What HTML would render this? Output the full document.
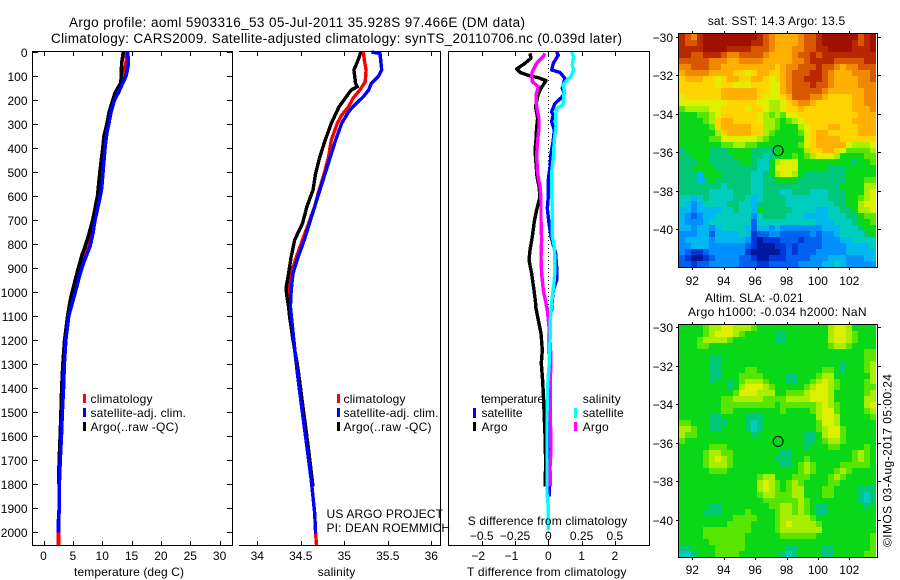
<!DOCTYPE html>
<html lang="en">
<head>
<meta charset="utf-8">
<title>Argo profile 5903316_53</title>
<style>
html,body{margin:0;padding:0;background:#fff;width:900px;height:580px;overflow:hidden}
svg{display:block}
text{font-family:"Liberation Sans",sans-serif;font-size:12px;fill:#000}
.mid{text-anchor:middle}
.end{text-anchor:end}
</style>
</head>
<body>
<svg id="figure" xmlns="http://www.w3.org/2000/svg" width="900" height="580" viewBox="0 0 900 580">
<rect x="0" y="0" width="900" height="580" fill="#fff"/>
<text x="69" y="27" textLength="456" style="font-size:13.5px">Argo profile: aoml 5903316_53 05-Jul-2011 35.928S 97.466E (DM data)</text>
<text x="51" y="43" textLength="571" style="font-size:13.5px">Climatology: CARS2009. Satellite-adjusted climatology: synTS_20110706.nc (0.039d later)</text>

<g id="panel-temp"></g>
<g id="panel-sal"></g>
<g id="panel-diff"></g>
<g id="map-sst"></g>
<g id="map-sla"></g>

<text x="74" y="576" textLength="110">temperature (deg C)</text>
<text x="317.7" y="576" textLength="37.5">salinity</text>
<text x="467" y="576" textLength="159.5">T difference from climatology</text>
<text x="467.7" y="525" textLength="159.5">S difference from climatology</text>

<g>
<rect x="83" y="394" width="3" height="9" fill="#f00"/>
<rect x="83" y="408" width="3" height="9" fill="#00f"/>
<rect x="83" y="422" width="3" height="9" fill="#000"/>
<text x="90.5" y="403" textLength="62">climatology</text>
<text x="90.5" y="417" textLength="95.5">satellite-adj. clim.</text>
<text x="90.5" y="431" textLength="88">Argo(..raw -QC)</text>
</g>
<g>
<rect x="337" y="394" width="3" height="9" fill="#f00"/>
<rect x="337" y="408" width="3" height="9" fill="#00f"/>
<rect x="337" y="422" width="3" height="9" fill="#000"/>
<text x="343.5" y="403" textLength="62">climatology</text>
<text x="343.5" y="417" textLength="95">satellite-adj. clim.</text>
<text x="343.5" y="431" textLength="88">Argo(..raw -QC)</text>
</g>
<text x="326.5" y="518" textLength="116.5">US ARGO PROJECT</text>
<text x="326.5" y="532" textLength="123.5">PI: DEAN ROEMMICH</text>
<g>
<text x="481" y="403" textLength="63">temperature</text>
<text x="582.7" y="403" textLength="38">salinity</text>
<rect x="473" y="408" width="3" height="10" fill="#00f"/>
<rect x="473" y="422" width="3" height="9" fill="#000"/>
<rect x="574" y="408" width="3" height="10" fill="#0ff"/>
<rect x="574" y="422" width="3" height="9" fill="#f0f"/>
<text x="481.5" y="417" textLength="41">satellite</text>
<text x="481.5" y="431" textLength="26">Argo</text>
<text x="582.7" y="417" textLength="41">satellite</text>
<text x="582.7" y="431" textLength="26">Argo</text>
</g>

<text x="707.7" y="25" textLength="137.5">sat. SST: 14.3 Argo: 13.5</text>
<text x="705" y="302" textLength="98.5">Altim. SLA: -0.021</text>
<text x="688" y="316" textLength="178.5">Argo h1000: -0.034 h2000: NaN</text>
<text transform="translate(891.5,547) rotate(-90)" x="0" y="0" textLength="173">©IMOS 03-Aug-2017 05:00:24</text>
</svg>

<script>
// ---- depth axis ----
const depthTicks = [0,100,200,300,400,500,600,700,800,900,1000,1100,1200,1300,1400,1500,1600,1700,1800,1900,2000];

// ---- temperature panel ----
const tempTicks = [0,5,10,15,20,25,30];
const climTempDepth = [0,50,100,140,170,200,250,300,340,400,480,570,620,700,760,810,880,940,1005,1100,1200,1300,1400,1500,1600,1700,1800,1900,2000,2054];
const climTemp = [14.1,14.05,13.6,13.0,12.5,11.9,11.35,11.0,10.65,10.4,10.1,9.8,9.4,8.65,8.25,7.75,6.65,5.9,5.2,4.25,3.75,3.5,3.35,3.15,3.0,2.8,2.65,2.65,2.55,2.55];
const satTempDepth = [0,50,100,140,170,200,250,300,340,400,480,570,620,700,760,810,880,940,1005,1100,1200,1300,1400,1500,1600,1700,1800,1900,1950,2002];
const satTemp = [14.35,14.46,14.06,13.3,12.75,12.07,11.5,11.1,10.77,10.48,10.2,9.9,9.5,8.78,8.38,7.93,6.8,6.05,5.37,4.3,3.8,3.55,3.4,3.2,3.05,2.85,2.7,2.7,2.55,2.55];
const argoTempDepth = [0,50,100,130,170,200,250,300,350,400,500,600,700,780,850,950,1030,1100,1200,1300,1400,1500,1600,1700,1800];
const argoTemp = [13.6,13.3,13.27,13.15,12.2,11.8,11.2,10.8,10.3,10.1,9.6,9.2,8.4,7.5,6.5,5.4,4.6,4.1,3.6,3.3,3.1,2.98,2.85,2.68,2.58];

// ---- salinity panel ----
const salTicks = [34,34.5,35,35.5,36];
const salTickLabels = ['34','34.5','35','35.5','36'];
const climSalDepth = [0,33,75,124,158,193,228,263,297,367,436,506,575,644,714,783,853,922,992,1100,1200,1367,1506,1644,1783,1922,2006,2054];
const climSal = [35.22,35.23,35.25,35.24,35.18,35.10,35.05,34.97,34.92,34.85,34.82,34.77,34.71,34.66,34.59,34.52,34.45,34.39,34.36,34.375,34.415,34.47,34.52,34.57,34.62,34.66,34.67,34.68];
const satSalDepth = [0,6,75,103,131,158,186,228,249,297,367,436,506,575,644,714,783,853,922,992,1061,1200,1367,1506,1644,1783,1922,2006];
const satSal = [35.31,35.41,35.43,35.39,35.31,35.28,35.22,35.10,35.05,34.97,34.90,34.84,34.78,34.72,34.66,34.60,34.54,34.47,34.41,34.39,34.38,34.42,34.47,34.52,34.57,34.62,34.66,34.67];
const argoSalDepth = [0,33,75,131,145,158,193,228,297,367,436,506,575,644,714,783,853,922,985,1019,1061,1100,1200,1300,1367,1506,1644,1811];
const argoSal = [35.19,35.16,35.11,35.13,35.15,35.08,35.01,34.94,34.85,34.78,34.72,34.67,34.64,34.57,34.52,34.43,34.39,34.36,34.33,34.34,34.36,34.37,34.41,34.46,34.485,34.535,34.585,34.64];

// ---- difference panel ----
const tDiffTicks = [-2,-1,0,1,2];
const tDiffLabels = ['−2','−1','0','1','2'];
const sDiffTicks = [-0.5,-0.25,0,0.25,0.5];
const sDiffLabels = ['−0.5','−0.25','0','0.25','0.5'];
const tArgoDepth = [6,26,47,71,85,100,107,119,158,186,228,276,318,367,408,464,519,561,603,658,707,769,825,867,922,992,1047,1061,1117,1172,1242,1297,1367,1422,1492,1561,1617,1728,1811];
const tArgoDiff = [-0.55,-0.52,-0.70,-0.95,-0.85,-0.55,-0.30,-0.07,-0.25,-0.32,-0.38,-0.32,-0.35,-0.37,-0.40,-0.37,-0.34,-0.28,-0.25,-0.35,-0.42,-0.48,-0.55,-0.58,-0.50,-0.43,-0.38,-0.38,-0.30,-0.22,-0.18,-0.21,-0.17,-0.15,-0.13,-0.11,-0.09,-0.08,-0.10];
const tSatDepth = [0,13,47,75,85,110,151,172,189,214,249,263,290,325,367,422,478,533,603,651,714,769,839,894,950,992,1033,1075,1089,1172,1400,1800,1852];
const tSatDiff = [0.25,0.30,0.15,0.10,0.35,0.50,0.42,0.48,0.40,0.20,0.10,0.15,0.10,0.18,0.15,0.08,0.05,0,0,-0.03,0.02,0.08,0.22,0.25,0.25,0.15,0.12,0.10,0.05,0.03,0.02,0.02,0.03];
const sSatDepth = [0,19,54,75,103,117,138,158,221,235,269,311,367,436,506,575,644,714,769,811,894,950,1006,1075,1117,1172,1242,1311,1394,1506,1658,1839,1894,1992];
const sSatDiff = [0.175,0.19,0.18,0.19,0.17,0.14,0.11,0.12,0.11,0.06,0.055,0.058,0.045,0.038,0.025,0.025,0.03,0.03,0.03,0.045,0.05,0.045,0.033,0.02,0.015,0.015,0.01,0.005,-0.005,-0.01,-0.01,-0.01,0,0];
const sArgoDepth = [6,19,47,89,124,144,179,228,276,318,367,436,506,561,617,700,783,853,922,992,1047,1075,1144,1269,1381,1506,1658,1728,1811];
const sArgoDiff = [-0.025,-0.0375,-0.0875,-0.125,-0.12,-0.075,-0.0925,-0.0875,-0.07,-0.07,-0.08,-0.0875,-0.08,-0.0625,-0.055,-0.055,-0.05,-0.055,-0.05,-0.0375,-0.0175,-0.0075,0.005,0.02,0.015,0.015,0.02,0.0125,0.015];

// ---- maps ----
const lonTicks = [92,94,96,98,100,102];
const latTicks = [-30,-32,-34,-36,-38,-40];
const profileLon = 97.466;
const profileLat = -35.928;
const levelColors = ['#0018a0','#0038d8','#0060f0','#0090ff','#00b8f0','#00ccc0','#00c878','#08d818','#58e600','#a8ee00','#dcf000','#ffd400','#ffb000','#f08800','#d85800','#b82800','#a01000'];
const sstLevels = [
[15,14,13,15,16,16,16,16,16,16,16,16,16,15,14,13,12,12,12,12,13,14,14,15,16,16,16,16,16,16,14,15,16],
[15,14,14,15,16,16,16,16,16,16,16,16,15,15,14,13,12,12,12,12,13,14,14,15,16,16,16,16,16,15,14,15,16],
[15,15,15,15,16,16,16,16,15,15,15,15,14,14,14,13,12,12,12,13,13,14,14,15,15,16,16,16,16,15,15,15,16],
[15,15,14,14,15,15,15,14,13,13,14,14,14,14,13,12,12,12,12,13,14,14,15,14,15,15,15,15,15,15,15,15,15],
[14,14,14,14,14,13,13,13,12,12,13,13,13,13,12,12,12,12,12,13,13,14,15,15,15,15,14,14,14,14,14,15,15],
[13,13,14,14,14,13,13,12,12,12,12,12,12,12,12,12,11,12,13,13,14,14,14,15,14,14,13,12,13,13,14,14,14],
[12,13,13,13,13,12,12,12,12,11,11,10,11,12,12,11,11,12,13,14,14,14,15,15,14,13,12,12,12,13,13,13,14],
[11,12,12,12,11,11,10,11,12,12,11,11,12,12,11,10,11,12,13,14,14,15,15,15,14,13,12,12,12,12,13,13,14],
[11,11,11,11,11,11,10,11,11,10,10,10,11,11,11,10,10,12,13,14,14,14,15,14,14,13,12,12,12,12,13,13,13],
[11,11,11,11,11,11,11,12,12,12,12,12,12,11,11,10,10,12,13,14,14,14,14,14,13,12,12,12,12,12,12,13,13],
[10,11,11,11,11,11,11,12,12,12,12,12,12,11,10,10,10,11,12,14,14,14,13,13,12,11,11,11,11,12,12,13,13],
[10,10,10,10,10,10,10,10,11,11,11,11,11,10,10,9,9,10,11,12,13,13,12,11,11,11,11,11,11,12,12,13,13],
[8,9,9,9,9,10,10,11,11,11,11,10,11,11,10,9,9,10,11,11,12,11,11,11,11,11,11,11,11,12,12,12,13],
[7,7,7,8,8,9,10,11,11,11,11,11,11,10,9,8,9,8,10,10,11,11,11,11,11,11,11,11,11,11,12,12,12],
[7,7,7,7,8,9,11,12,12,11,11,11,11,10,9,9,8,7,8,9,10,11,11,11,11,11,11,11,11,12,12,12,12],
[7,7,7,7,7,8,11,12,12,12,12,12,11,11,9,9,8,7,7,7,9,10,11,11,11,12,12,11,11,11,12,12,12],
[7,7,7,7,7,7,9,11,12,12,12,12,11,11,9,8,7,7,7,7,8,10,11,12,12,11,11,11,11,11,12,12,12],
[7,7,7,7,7,8,8,10,10,10,10,10,10,9,8,7,7,7,7,7,7,10,11,12,12,12,12,11,11,11,11,11,11],
[7,7,7,7,7,7,7,8,8,9,9,8,8,7,7,7,7,7,7,7,8,10,11,12,12,12,12,12,10,9,9,9,10],
[6,7,7,7,7,6,6,6,7,7,7,7,6,6,6,6,7,7,7,7,7,9,11,11,12,12,11,10,8,8,8,8,9],
[6,6,7,7,7,6,6,6,6,7,7,7,6,6,5,6,7,7,7,8,7,8,9,10,10,10,9,7,7,7,7,8,8],
[6,6,6,7,7,6,6,6,6,6,7,7,6,5,5,7,9,10,10,10,7,7,7,7,7,7,7,7,7,6,7,7,8],
[6,6,7,7,7,7,6,6,6,6,6,6,6,5,5,7,10,10,10,10,7,7,7,7,7,6,6,6,7,7,7,7,7],
[6,6,6,4,7,7,7,6,6,6,6,6,5,5,6,7,9,10,10,9,7,6,6,6,6,6,6,6,7,7,7,7,7],
[6,6,6,4,6,7,6,6,6,6,6,6,5,5,6,6,7,7,7,7,6,6,6,6,6,6,6,6,7,7,7,8,8],
[6,6,6,6,6,6,6,5,6,6,6,6,5,5,6,6,6,6,6,6,6,6,6,6,6,6,6,7,7,7,7,9,9],
[6,6,6,6,6,5,5,5,5,6,6,6,5,5,6,6,6,5,5,6,6,6,5,5,5,6,6,6,7,7,7,9,10],
[5,5,4,5,6,5,5,5,5,6,6,5,4,5,6,6,6,6,5,5,5,5,5,5,5,6,6,6,7,7,8,9,10],
[5,4,3,4,5,5,5,5,6,6,5,5,4,6,6,6,6,6,5,5,5,5,5,5,5,5,6,6,7,7,9,10,10],
[4,4,3,4,4,4,4,5,5,6,5,5,4,7,6,6,6,6,6,5,5,5,5,4,4,5,5,6,6,7,9,9,10],
[4,3,2,3,4,4,5,5,5,5,5,5,3,5,6,6,6,6,5,5,5,4,4,4,4,5,5,5,6,6,7,8,8],
[4,3,3,3,4,5,5,5,5,5,5,5,2,5,5,5,5,5,5,5,5,5,5,4,4,4,5,5,5,6,7,7,8],
[4,4,3,4,4,3,4,5,5,5,5,4,2,4,4,3,4,3,3,3,3,3,3,3,4,4,4,5,5,5,6,7,7],
[3,3,3,4,4,2,4,4,4,4,5,4,1,2,2,3,3,2,2,2,2,2,3,2,3,3,4,5,5,5,5,6,7],
[3,4,4,4,4,3,4,4,4,4,4,3,1,0,1,1,1,2,2,2,1,2,2,2,3,3,3,4,4,5,5,5,5],
[3,3,4,4,4,3,3,3,3,3,3,2,1,0,0,0,1,1,2,1,2,2,2,2,3,3,3,3,4,4,4,4,5],
[3,2,1,1,2,3,3,3,3,3,3,1,0,0,0,0,0,1,2,1,2,2,2,3,3,3,3,3,4,4,4,4,4],
[2,1,0,0,1,2,3,3,3,3,2,2,1,0,0,1,1,1,2,2,2,2,3,3,3,4,4,4,3,3,3,4,4],
[2,2,1,2,2,3,3,3,3,3,2,2,2,1,1,2,2,2,2,2,3,3,3,3,4,4,5,4,3,3,3,3,3]
];
const slaLevels = [
[7,7,7,7,8,9,9,10,10,9,9,9,8,7,7,7,7,7,7,7,7,7,7,7,7,9,10,10,9,7,7,7,7],
[7,7,7,7,8,9,10,10,10,9,8,7,7,7,7,7,6,6,7,7,7,7,7,7,7,9,10,10,9,8,7,7,7],
[7,7,7,8,9,9,9,9,8,7,7,7,7,7,7,7,6,6,7,7,7,7,7,7,7,9,10,10,9,8,7,7,7],
[7,7,7,8,8,7,7,7,7,7,7,7,7,7,7,7,7,7,7,7,7,7,7,7,7,8,9,9,8,7,7,7,7],
[7,7,7,7,7,7,7,7,7,7,7,7,7,7,7,7,7,7,7,7,7,7,7,7,7,7,7,7,7,7,7,8,8],
[7,7,7,7,7,6,6,7,7,7,7,7,7,7,7,7,7,7,7,7,7,7,7,7,7,7,7,7,7,7,7,8,8],
[7,7,7,7,7,6,6,7,7,7,7,7,7,7,7,7,7,7,7,7,7,7,7,7,7,7,7,6,7,7,7,8,9],
[7,7,7,7,7,6,6,7,7,7,7,8,8,7,7,7,7,7,7,7,7,7,7,7,8,8,7,6,7,7,7,8,9],
[7,7,7,7,7,6,6,7,7,7,8,8,8,8,7,7,7,7,6,6,7,7,7,8,9,9,7,7,7,7,7,7,9],
[7,7,7,7,7,6,7,7,6,7,8,9,9,9,8,7,7,7,6,6,7,7,8,9,10,9,8,7,7,7,7,8,9],
[7,7,7,7,7,7,7,7,6,7,9,10,10,10,9,8,7,7,7,7,7,8,9,10,10,9,8,7,7,7,7,8,8],
[7,7,7,7,7,7,7,7,7,8,10,10,10,9,9,9,7,7,8,8,8,9,10,10,10,9,7,7,7,7,7,8,9],
[7,7,7,7,7,7,7,8,8,9,9,9,9,9,8,8,8,8,9,9,9,9,10,10,10,9,7,7,7,7,7,9,9],
[7,7,7,7,7,7,7,8,8,8,8,8,8,8,8,8,7,8,8,8,8,8,8,9,10,9,8,7,7,7,7,9,10],
[7,7,7,7,7,7,7,8,8,7,7,7,7,7,7,7,7,8,7,7,7,7,8,9,10,10,8,7,7,7,7,8,9],
[7,7,7,7,7,6,6,7,7,7,7,6,6,6,7,7,7,7,7,7,7,7,7,9,10,10,9,7,7,7,7,7,8],
[8,8,7,7,7,6,6,6,7,7,7,6,5,6,7,7,7,7,7,7,7,7,7,8,10,10,9,7,7,7,7,7,7],
[9,9,8,7,7,6,6,7,7,7,7,6,5,6,7,7,7,7,7,7,7,7,7,8,9,10,10,8,7,7,7,7,7],
[9,8,8,7,7,7,7,7,7,7,7,7,6,7,7,7,7,7,7,7,7,6,6,7,9,10,10,8,7,7,7,7,7],
[8,7,7,7,7,7,7,7,7,7,7,7,7,7,7,7,7,7,7,7,7,6,6,7,8,9,9,8,7,7,7,7,7],
[7,7,7,7,7,8,8,8,7,7,7,7,7,7,7,7,7,7,7,7,7,6,7,7,7,8,8,7,7,7,7,8,7],
[7,7,7,7,8,9,9,8,8,7,7,7,7,7,7,7,7,6,6,7,7,7,7,7,7,7,7,7,7,8,9,8,7],
[7,7,7,7,8,9,10,9,8,7,7,7,7,7,7,7,6,6,6,7,7,8,7,7,7,7,7,7,7,8,9,8,7],
[7,7,7,7,8,9,9,9,8,7,7,7,7,7,7,7,7,6,6,7,8,9,8,7,7,7,7,8,8,8,8,8,7],
[7,7,7,7,7,8,8,8,7,7,7,7,7,7,7,7,7,7,7,7,8,9,8,7,7,7,8,9,8,7,7,7,7],
[7,7,7,7,7,7,7,7,7,7,7,7,7,8,9,9,7,7,7,8,8,8,7,7,7,8,9,8,7,7,7,7,7],
[7,7,7,7,7,7,7,7,7,7,7,7,7,9,10,9,8,7,8,9,8,7,7,7,7,8,8,7,7,7,7,7,7],
[7,7,7,7,7,7,7,7,7,7,7,7,7,9,10,9,8,7,8,9,9,7,7,7,8,8,7,7,7,7,6,6,6],
[7,7,7,7,7,7,7,7,7,7,7,7,7,8,9,9,8,8,8,9,9,7,7,7,8,8,7,7,7,7,6,5,6],
[7,7,7,7,7,7,7,7,7,7,7,7,7,7,8,8,8,8,8,8,9,8,7,7,7,7,7,7,7,7,6,5,6],
[7,7,7,7,7,6,6,7,7,7,7,7,7,7,7,8,8,9,9,8,9,8,7,6,6,7,7,7,7,7,7,6,7],
[7,7,7,7,6,6,6,7,7,7,7,8,7,7,7,7,8,9,9,8,9,8,7,6,6,7,7,7,7,7,7,7,7],
[7,7,7,7,7,7,7,7,7,8,8,8,8,7,7,7,8,9,9,9,9,9,8,7,7,7,7,7,7,7,7,7,7],
[7,7,7,7,7,7,7,7,8,8,8,8,7,7,7,7,8,9,10,9,9,9,9,8,7,7,7,7,7,7,7,7,7],
[7,7,7,7,8,8,8,8,8,8,8,8,7,7,7,7,8,9,9,9,9,9,9,9,7,7,7,7,7,7,7,7,7],
[7,7,7,7,8,8,8,8,8,8,8,7,7,7,7,7,7,8,8,8,8,8,8,7,7,7,7,7,7,7,7,7,8],
[7,7,7,7,7,8,8,8,8,8,8,7,7,7,7,7,7,7,7,7,7,7,7,7,7,7,7,7,7,7,7,7,8],
[6,6,7,7,7,7,8,8,8,8,8,7,7,7,7,7,7,7,6,6,7,7,7,7,6,6,7,7,7,7,7,7,8],
[5,5,6,7,7,7,8,8,8,8,7,7,7,7,7,7,7,6,5,6,7,7,7,7,6,6,7,7,7,7,7,8,8]
];

// ---- drawing helpers ----
const NS = 'http://www.w3.org/2000/svg';
function make(parent, tag, attrs, text) {
  const node = document.createElementNS(NS, tag);
  for (const key in attrs) node.setAttribute(key, attrs[key]);
  if (text !== undefined) node.textContent = text;
  parent.appendChild(node);
  return node;
}
function seg(parent, x1, y1, x2, y2, name) {
  const ln = make(parent, 'line', {x1: x1, y1: y1, x2: x2, y2: y2, stroke: '#000', 'stroke-width': 1, 'shape-rendering': 'crispEdges'});
  
  
  return ln;
}
function label(parent, x, y, str, cls, name) {
  const t = make(parent, 'text', {x: x, y: y, class: cls}, str);
  
  
  return t;
}
const yDepth = d => 52 + 0.24 * d;
function curve(parent, depths, values, xFn, color, width, name) {
  const pts = depths.map((d, i) => xFn(values[i]).toFixed(1) + ',' + yDepth(d).toFixed(1)).join(' ');
  const line = make(parent, 'polyline', {points: pts, fill: 'none', stroke: color, 'stroke-width': width, 'stroke-linejoin': 'round', 'shape-rendering': 'crispEdges'});
  
  
}

// ---- temperature panel ----
const xTemp = t => 43.5 + 5.87 * t;
const pTemp = document.getElementById('panel-temp');
curve(pTemp, climTempDepth, climTemp, xTemp, '#f00', 3.6, 'climatology-temperature-line');
curve(pTemp, argoTempDepth, argoTemp, xTemp, '#000', 3.6, 'argo-temperature-line');
curve(pTemp, satTempDepth, satTemp, xTemp, '#00f', 3.6, 'satellite-temperature-line');
seg(pTemp, 32, 51.5, 233, 51.5, 'temperature-axis-top');
seg(pTemp, 32, 545.5, 233, 545.5, 'temperature-axis-bottom');
seg(pTemp, 32.5, 51, 32.5, 546, 'depth-axis-left');
seg(pTemp, 232.5, 51, 232.5, 546, 'temperature-axis-right');
depthTicks.forEach(d => {
  const y = Math.round(yDepth(d)) + 0.5;
  seg(pTemp, 33, y, 38, y, 'depth-tick');
  seg(pTemp, 227, y, 232, y, 'depth-tick-right');
  label(pTemp, 27.5, y + 4.5, String(d), 'end', 'depth-tick-label');
});
tempTicks.forEach(t => {
  const x = Math.round(xTemp(t)) + 0.5;
  seg(pTemp, x, 52, x, 56, 'temperature-tick-top');
  seg(pTemp, x, 541, x, 545, 'temperature-tick-bottom');
  label(pTemp, xTemp(t), 560, String(t), 'mid', 'temperature-tick-label');
});

// ---- salinity panel ----
const xSal = s => 257.3 + 87 * (s - 34);
const pSal = document.getElementById('panel-sal');
curve(pSal, climSalDepth, climSal, xSal, '#f00', 3.4, 'climatology-salinity-line');
curve(pSal, argoSalDepth, argoSal, xSal, '#000', 3.4, 'argo-salinity-line');
curve(pSal, satSalDepth, satSal, xSal, '#00f', 3.4, 'satellite-salinity-line');
seg(pSal, 239, 51.5, 441, 51.5, 'salinity-axis-top');
seg(pSal, 239, 545.5, 441, 545.5, 'salinity-axis-bottom');
seg(pSal, 440.5, 51, 440.5, 546, 'salinity-axis-right');
salTicks.forEach((s, i) => {
  const x = Math.round(xSal(s)) + 0.5;
  seg(pSal, x, 52, x, 56, 'salinity-tick-top');
  seg(pSal, x, 541, x, 545, 'salinity-tick-bottom');
  label(pSal, xSal(s), 560, salTickLabels[i], 'mid', 'salinity-tick-label');
});

// ---- difference panel ----
const xTDiff = t => 548.3 + 33.3 * t;
const xSDiff = s => 548.3 + 133.2 * s;
const pDiff = document.getElementById('panel-diff');
const zeroLine = make(pDiff, 'line', {x1: 548.5, y1: 52, x2: 548.5, y2: 545, stroke: '#000', 'stroke-width': 1, 'stroke-dasharray': '1 3', 'shape-rendering': 'crispEdges'});


curve(pDiff, tArgoDepth, tArgoDiff, xTDiff, '#000', 3.4, 't-argo-difference-line');
curve(pDiff, tSatDepth, tSatDiff, xTDiff, '#00f', 3.4, 't-satellite-difference-line');
curve(pDiff, sArgoDepth, sArgoDiff, xSDiff, '#f0f', 3.4, 's-argo-difference-line');
curve(pDiff, sSatDepth, sSatDiff, xSDiff, '#0ff', 3.4, 's-satellite-difference-line');
seg(pDiff, 448, 51.5, 650, 51.5, 'difference-axis-top');
seg(pDiff, 448, 545.5, 650, 545.5, 'difference-axis-bottom');
seg(pDiff, 448.5, 51, 448.5, 546, 'difference-axis-left');
seg(pDiff, 649.5, 51, 649.5, 546, 'difference-axis-right');
tDiffTicks.forEach((t, i) => {
  const x = Math.round(xTDiff(t)) + 0.5;
  seg(pDiff, x, 52, x, 56, 'difference-tick-top');
  seg(pDiff, x, 541, x, 545, 'difference-tick-bottom');
  label(pDiff, xTDiff(t) - (t < 0 ? 3.5 : 0), 560, tDiffLabels[i], 'mid', 't-difference-tick-label');
});
sDiffTicks.forEach((s, i) => {
  label(pDiff, xSDiff(s), 540, sDiffLabels[i], 'mid', 's-difference-tick-label');
});

// ---- maps ----
function drawMap(groupId, levels, geom, name) {
  const g = document.getElementById(groupId);
  const xLon = lon => 692.3 + 15.7 * (lon - 92);
  const yLat = lat => geom.y30 + geom.perDeg * (-30 - lat);
  const lonAt = x => 92 + (x - 692.3) / 15.7;
  const latAt = y => -30 - (y - geom.y30) / geom.perDeg;
  const lonLeft = lonAt(679), lonRight = lonAt(876);
  const latTop = latAt(geom.top), latBottom = latAt(geom.bottom);
  const nRows = levels.length, nCols = levels[0].length;
  const dLon = (lonRight - lonLeft) / nCols, dLat = (latTop - latBottom) / nRows;
  levels.forEach((rowVals, r) => {
    rowVals.forEach((v, c) => {
      const x0 = Math.round(xLon(lonLeft + c * dLon)), x1 = Math.round(xLon(lonLeft + (c + 1) * dLon));
      const y0 = Math.round(yLat(latTop - r * dLat)), y1 = Math.round(yLat(latTop - (r + 1) * dLat));
      const cell = make(g, 'rect', {x: x0, y: y0, width: x1 - x0, height: y1 - y0, fill: levelColors[v], 'shape-rendering': 'crispEdges'});
      
      
    });
  });
  seg(g, 678.5, geom.top - 0.5, 877.5, geom.top - 0.5, name + '-frame-top');
  seg(g, 678.5, geom.bottom + 0.5, 877.5, geom.bottom + 0.5, name + '-frame-bottom');
  seg(g, 678.5, geom.top - 1, 678.5, geom.bottom + 1, name + '-frame-left');
  seg(g, 877.5, geom.top - 1, 877.5, geom.bottom + 1, name + '-frame-right');
  lonTicks.forEach(lon => {
    const x = Math.round(xLon(lon)) + 0.5;
    seg(g, x, geom.top - 3, x, geom.top, name + '-lon-tick-top');
    seg(g, x, geom.bottom, x, geom.bottom + 3, name + '-lon-tick-bottom');
    label(g, xLon(lon), geom.labelY, String(lon), 'mid', name + '-lon-tick-label');
  });
  latTicks.forEach(lat => {
    const y = Math.round(yLat(lat)) + 0.5;
    seg(g, 676, y, 679, y, name + '-lat-tick-left');
    seg(g, 878, y, 881, y, name + '-lat-tick-right');
    label(g, 673, y + 4.5, '−' + Math.abs(lat), 'end', name + '-lat-tick-label');
  });
  const marker = make(g, 'circle', {cx: xLon(profileLon), cy: yLat(profileLat), r: 5, fill: 'none', stroke: '#000', 'stroke-width': 1});
  
  
}
drawMap('map-sst', sstLevels, {y30: 36.5, perDeg: 19.25, top: 34, bottom: 267, labelY: 285}, 'sst-map');
drawMap('map-sla', slaLevels, {y30: 327, perDeg: 19.3, top: 325, bottom: 557, labelY: 574}, 'sla-map');
</script>
</body>
</html>
